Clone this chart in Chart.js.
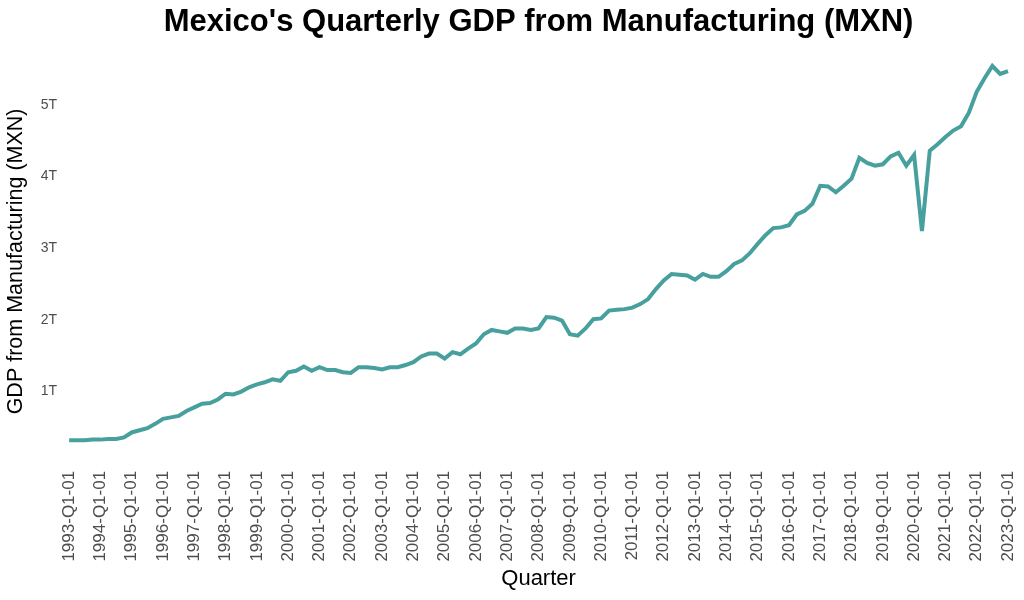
<!DOCTYPE html>
<html>
<head>
<meta charset="utf-8">
<script src="https://cdn.jsdelivr.net/npm/chart.js@4"></script>
<style>
  html, body { margin: 0; padding: 0; background: #fff; }
  #wrap { width: 1024px; height: 600px; }
</style>
</head>
<body>
<div id="wrap"><canvas id="gdpChart" width="1024" height="600"></canvas></div>
<script>
// quarters 1993-Q1 .. 2023-Q1
const years = [1993, 1994, 1995, 1996, 1997, 1998, 1999, 2000, 2001, 2002, 2003, 2004, 2005, 2006, 2007,
  2008, 2009, 2010, 2011, 2012, 2013, 2014, 2015, 2016, 2017, 2018, 2019, 2020, 2021, 2022, 2023];
const quarters = [];
years.forEach(y => {
  for (let q = 1; q <= 4; q++) {
    if (y === 2023 && q > 1) break;
    quarters.push(`${y}-Q${q}-01`);
  }
});

// GDP from manufacturing, trillions of MXN
const gdpValues = [
  0.32, 0.32, 0.32, 0.33, 0.33, 0.34, 0.34, 0.36,
  0.43, 0.46, 0.49, 0.55, 0.62, 0.64, 0.66, 0.73,
  0.78, 0.83, 0.84, 0.89, 0.97, 0.96, 1.00, 1.06,
  1.10, 1.13, 1.17, 1.15, 1.27, 1.29, 1.35, 1.29,
  1.34, 1.30, 1.30, 1.27, 1.26, 1.34, 1.34, 1.33,
  1.31, 1.34, 1.34, 1.37, 1.41, 1.49, 1.53, 1.53,
  1.46, 1.55, 1.52, 1.60, 1.67, 1.80, 1.86, 1.84,
  1.82, 1.88, 1.88, 1.86, 1.88, 2.04, 2.03, 1.99,
  1.80, 1.78, 1.88, 2.01, 2.02, 2.13, 2.14, 2.15,
  2.17, 2.22, 2.29, 2.43, 2.55, 2.64, 2.63, 2.62,
  2.56, 2.64, 2.60, 2.60, 2.68, 2.78, 2.83, 2.93,
  3.06, 3.18, 3.28, 3.29, 3.32, 3.47, 3.52, 3.62,
  3.87, 3.86, 3.78, 3.87, 3.97, 4.26, 4.19, 4.15,
  4.17, 4.28, 4.33, 4.15, 4.30, 3.24, 4.36, 4.45,
  4.55, 4.64, 4.70, 4.89, 5.18, 5.37, 5.54, 5.43,
  5.47
];

const yTicks = [1, 2, 3, 4, 5];
const chartTitle = "Mexico's Quarterly GDP from Manufacturing (MXN)";

// title centred over the plot area, like the original
const plotTitle = {
  id: 'plotTitle',
  afterDraw(chart) {
    const { ctx, chartArea } = chart;
    ctx.save();
    ctx.font = 'bold 31px "Liberation Sans"';
    ctx.fillStyle = '#000';
    ctx.textAlign = 'center';
    ctx.textBaseline = 'middle';
    ctx.fillText(chartTitle, (chartArea.left + chartArea.right) / 2, 22);
    ctx.restore();
  }
};

const ctx = document.getElementById('gdpChart').getContext('2d');
const gdpChart = new Chart(ctx, {
  type: 'line',
  data: {
    labels: quarters,
    datasets: [{
      label: 'GDP from Manufacturing',
      data: gdpValues,
      borderColor: '#47a09d',
      borderWidth: 4,
      pointRadius: 0,
      tension: 0,
      fill: false
    }]
  },
  plugins: [plotTitle],
  options: {
    responsive: false,
    animation: false,
    layout: { padding: { left: 0, right: 16, top: 56, bottom: 8 } },
    plugins: {
      legend: { display: false },
      tooltip: { enabled: false },
      title: { display: false }
    },
    scales: {
      x: {
        offset: false,
        grid: { display: false, drawTicks: false },
        border: { display: false },
        // rotated labels would otherwise push the plot in on the right
        afterFit: scale => { scale.paddingRight = 0; },
        ticks: {
          autoSkip: false,
          maxRotation: 90,
          minRotation: 90,
          color: '#4d4d4d',
          font: { family: 'Liberation Sans', size: 17 },
          padding: 4,
          callback: function (val, i) {
            return i % 4 === 0 ? this.getLabelForValue(val) : null;
          }
        },
        title: {
          display: true,
          text: 'Quarter',
          color: '#000',
          font: { family: 'Liberation Sans', size: 22 },
          padding: { top: 0, bottom: 0 }
        }
      },
      y: {
        min: -0.05,
        max: 5.68,
        grid: { display: false, drawTicks: false },
        border: { display: false },
        afterBuildTicks: axis => { axis.ticks = yTicks.map(v => ({ value: v })); },
        ticks: {
          color: '#4d4d4d',
          font: { family: 'Liberation Sans', size: 14 },
          padding: 12,
          callback: v => `${v}T`
        },
        title: {
          display: true,
          text: 'GDP from Manufacturing (MXN)',
          color: '#000',
          font: { family: 'Liberation Sans', size: 21.5 },
          padding: { top: 3, bottom: 0 }
        }
      }
    }
  }
});
</script>
</body>
</html>
